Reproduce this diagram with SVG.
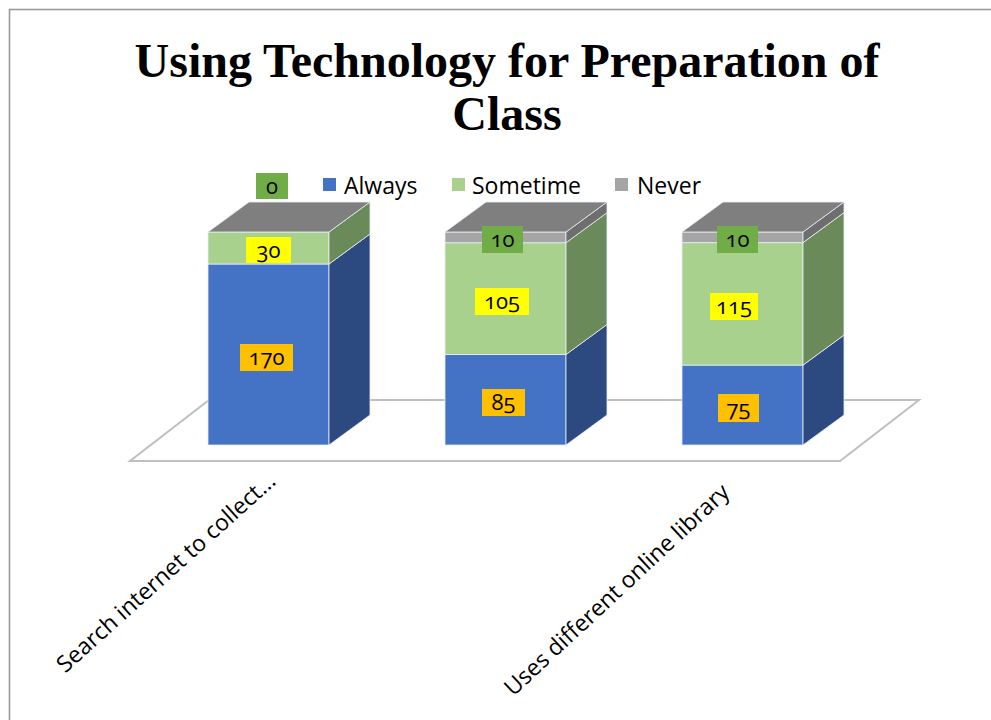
<svg xmlns="http://www.w3.org/2000/svg" width="991" height="720" viewBox="0 0 991 720">
<style>
.bf{fill:#4472c4}.bs{fill:#2c4a80}
.gf{fill:#a9d18e}.gs{fill:#6b8a5a}
.nf{fill:#a5a5a5}.ns{fill:#6e6e6e}.top{fill:#7f7f7f}
.edge{stroke:#e8eef8;stroke-width:1;stroke-opacity:0.8}
.lbl{font-family:"Open Sans","Liberation Sans",sans-serif;font-size:22px;fill:#000;text-anchor:middle;font-variant-numeric:oldstyle-nums}
.lg{font-family:"Open Sans","Liberation Sans",sans-serif;font-size:23px;fill:#000}
.ax{font-family:"Open Sans","Liberation Sans",sans-serif;font-size:23px;fill:#000;text-anchor:end}
.title{font-family:"Liberation Serif","Times New Roman",serif;font-weight:bold;font-size:48px;fill:#000;text-anchor:middle}
.yl{fill:#ffff00}.or{fill:#ffc000}.gr{fill:#70ad47}
</style>
<rect x="0" y="0" width="991" height="720" fill="#fff"/>
<rect x="9.5" y="9.5" width="995" height="720" fill="none" stroke="#9a9a9a" stroke-width="1.6"/>
<g id="title">
<text class="title" x="507" y="77">Using Technology for Preparation of</text>
<text class="title" x="507" y="130">Class</text>
</g>
<g id="legend">
<rect class="gr" x="256" y="173" width="32" height="26"/>
<text class="lbl" x="272" y="194">0</text>
<rect class="bf" x="323" y="178" width="13" height="13"/>
<text class="lg" x="344" y="194">Always</text>
<rect class="gf" x="452" y="178" width="13" height="13"/>
<text class="lg" x="472" y="194">Sometime</text>
<rect class="nf" x="615" y="178" width="13" height="13"/>
<text class="lg" x="637" y="194">Never</text>
</g>
<g id="floor">
<polygon points="130,461 840,461 919,400 209,400" fill="#fff" stroke="#bfbfbf" stroke-width="2"/>
</g>
<g id="bar1">
<rect class="bf edge" x="208" y="264" width="121" height="181"/>
<polygon class="bs edge" points="329,445 370,415 370,234 329,264"/>
<rect class="gf edge" x="208" y="232" width="121" height="32"/>
<polygon class="gs edge" points="329,264 370,234 370,202 329,232"/>
<polygon class="top edge" points="208,232 329,232 370,202 249,202"/>
<rect class="yl" x="246" y="237" width="45" height="26"/>
<text class="lbl" x="268.5" y="258">30</text>
<rect class="or" x="240" y="344" width="53" height="27"/>
<text class="lbl" x="266.5" y="365">170</text>
</g>
<g id="bar2">
<rect class="bf edge" x="445" y="354.5" width="121" height="90.5"/>
<polygon class="bs edge" points="566,445 607,415 607,324.5 566,354.5"/>
<rect class="gf edge" x="445" y="242.7" width="121" height="111.8"/>
<polygon class="gs edge" points="566,354.5 607,324.5 607,212.7 566,242.7"/>
<rect class="nf edge" x="445" y="232" width="121" height="10.7"/>
<polygon class="ns edge" points="566,242.7 607,212.7 607,202 566,232"/>
<polygon class="top edge" points="445,232 566,232 607,202 486,202"/>
<rect class="gr" x="482" y="226" width="41" height="27"/>
<text class="lbl" x="502.5" y="247">10</text>
<rect class="yl" x="475" y="288" width="54" height="27"/>
<text class="lbl" x="502" y="309">105</text>
<rect class="or" x="482" y="389" width="43" height="27"/>
<text class="lbl" x="503.5" y="410">85</text>
</g>
<g id="bar3">
<rect class="bf edge" x="682" y="365.1" width="121" height="79.9"/>
<polygon class="bs edge" points="803,445 844,415 844,335.1 803,365.1"/>
<rect class="gf edge" x="682" y="242.6" width="121" height="122.5"/>
<polygon class="gs edge" points="803,365.1 844,335.1 844,212.6 803,242.6"/>
<rect class="nf edge" x="682" y="232" width="121" height="10.6"/>
<polygon class="ns edge" points="803,242.6 844,212.6 844,202 803,232"/>
<polygon class="top edge" points="682,232 803,232 844,202 723,202"/>
<rect class="gr" x="717" y="226" width="41" height="27"/>
<text class="lbl" x="737.5" y="247">10</text>
<rect class="yl" x="710" y="293" width="48" height="27"/>
<text class="lbl" x="734" y="314">115</text>
<rect class="or" x="718" y="394" width="41" height="28"/>
<text class="lbl" x="738.5" y="416">75</text>
</g>
<g id="axis-labels">
<text class="ax" transform="translate(277,483) rotate(-42)">Search internet to collect…</text>
<text class="ax" transform="translate(731,494) rotate(-43)">Uses different online library</text>
</g>
</svg>
